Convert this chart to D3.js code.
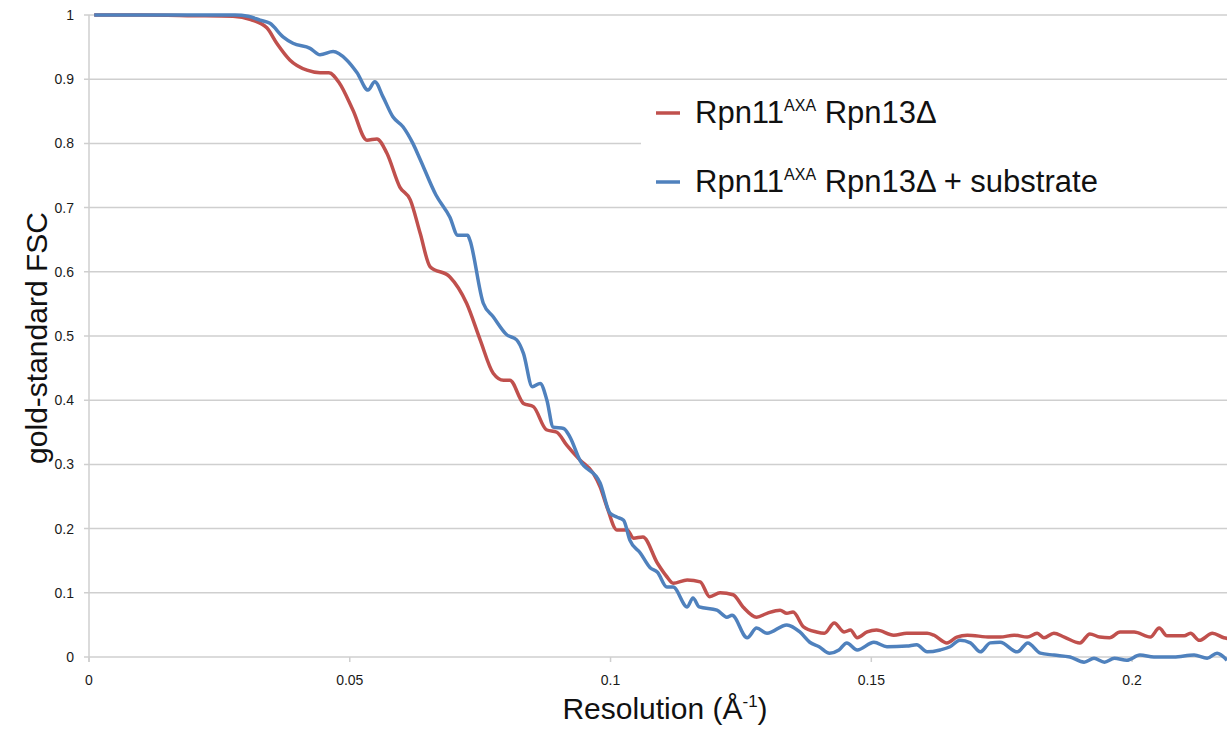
<!DOCTYPE html>
<html>
<head>
<meta charset="utf-8">
<title>gold-standard FSC</title>
<style>
  body { margin: 0; background: #fff; }
  text { font-family: "Liberation Sans", Arial, sans-serif; }
</style>
</head>
<body>
<script src="https://d3js.org/d3.v7.min.js"></script>
<script>
// resolution (1/A) and FSC
var redX = [0.001, 0.010, 0.020, 0.0276, 0.031, 0.0341, 0.036, 0.0385, 0.0418, 0.0443, 0.046, 0.048, 0.0506, 0.0533, 0.0552, 0.0571, 0.0596, 0.0616, 0.0635, 0.0654, 0.0692, 0.0724, 0.075, 0.0775, 0.0795, 0.0807, 0.0833, 0.0852, 0.0877, 0.0897, 0.0916, 0.0941, 0.0967, 0.098, 0.0993, 0.1012, 0.1032, 0.1044, 0.1062, 0.109, 0.1108, 0.112, 0.1147, 0.1172, 0.119, 0.121, 0.1235, 0.1254, 0.128, 0.130, 0.1325, 0.1338, 0.135, 0.137, 0.1395, 0.141, 0.1429, 0.1448, 0.146, 0.1473, 0.1492, 0.151, 0.1543, 0.1568, 0.1607, 0.162, 0.1645, 0.1664, 0.1684, 0.1728, 0.1747, 0.1774, 0.1799, 0.1818, 0.1831, 0.185, 0.187, 0.190, 0.1919, 0.1938, 0.1957, 0.1977, 0.2004, 0.2035, 0.2052, 0.2067, 0.2100, 0.2112, 0.2129, 0.2154, 0.2176, 0.2190];
var redY = [1.0, 1.0, 0.999, 0.998, 0.993, 0.98, 0.956, 0.93, 0.914, 0.91, 0.91, 0.894, 0.852, 0.805, 0.807, 0.785, 0.732, 0.712, 0.66, 0.608, 0.592, 0.551, 0.494, 0.442, 0.431, 0.431, 0.395, 0.39, 0.354, 0.35, 0.33, 0.307, 0.286, 0.265, 0.234, 0.198, 0.198, 0.185, 0.187, 0.146, 0.125, 0.115, 0.12, 0.117, 0.094, 0.1, 0.097, 0.078, 0.062, 0.068, 0.073, 0.068, 0.07, 0.047, 0.039, 0.037, 0.053, 0.039, 0.042, 0.030, 0.039, 0.042, 0.034, 0.037, 0.037, 0.034, 0.022, 0.031, 0.034, 0.031, 0.031, 0.034, 0.031, 0.037, 0.030, 0.037, 0.031, 0.022, 0.036, 0.031, 0.030, 0.039, 0.039, 0.031, 0.045, 0.033, 0.033, 0.037, 0.026, 0.037, 0.030, 0.028];

var blueX = [0.001, 0.010, 0.020, 0.028, 0.0305, 0.0328, 0.0347, 0.0372, 0.0391, 0.0424, 0.0443, 0.0468, 0.0494, 0.0514, 0.0535, 0.0548, 0.0564, 0.0583, 0.0602, 0.0621, 0.0635, 0.0665, 0.0692, 0.0707, 0.0726, 0.073, 0.0756, 0.0775, 0.0801, 0.082, 0.0833, 0.085, 0.0865, 0.0878, 0.089, 0.091, 0.0922, 0.0941, 0.098, 0.0999, 0.1012, 0.1025, 0.1037, 0.1057, 0.1076, 0.109, 0.1108, 0.112, 0.1147, 0.1158, 0.117, 0.1204, 0.1223, 0.1233, 0.1262, 0.128, 0.130, 0.1338, 0.1363, 0.1382, 0.140, 0.142, 0.1438, 0.1453, 0.1473, 0.1505, 0.153, 0.1568, 0.1587, 0.1607, 0.1632, 0.1651, 0.167, 0.169, 0.1709, 0.1728, 0.1747, 0.178, 0.180, 0.1824, 0.1850, 0.1881, 0.1908, 0.1927, 0.1947, 0.1966, 0.1990, 0.2015, 0.2042, 0.2080, 0.2119, 0.2144, 0.2163, 0.2182];
var blueY = [1.0, 1.0, 1.0, 1.0, 0.998, 0.992, 0.987, 0.966, 0.956, 0.948, 0.938, 0.943, 0.93, 0.91, 0.883, 0.896, 0.872, 0.841, 0.826, 0.8, 0.775, 0.72, 0.685, 0.657, 0.657, 0.65, 0.551, 0.53, 0.502, 0.494, 0.473, 0.421, 0.426, 0.4, 0.358, 0.356, 0.343, 0.307, 0.271, 0.224, 0.218, 0.213, 0.182, 0.162, 0.139, 0.132, 0.109, 0.109, 0.078, 0.092, 0.078, 0.073, 0.062, 0.065, 0.03, 0.045, 0.037, 0.05, 0.039, 0.023, 0.016, 0.006, 0.011, 0.022, 0.011, 0.023, 0.016, 0.017, 0.019, 0.008, 0.011, 0.016, 0.026, 0.022, 0.008, 0.022, 0.023, 0.008, 0.022, 0.006, 0.003, 0.0, -0.008, -0.002, -0.008, -0.002, -0.005, 0.003, 0.0, 0.0, 0.003, -0.002, 0.006, -0.005];

var xTicks = [0, 0.05, 0.1, 0.15, 0.2];
var xTickLabels = ["0", "0.05", "0.1", "0.15", "0.2"];
var yTicks = [0, 0.1, 0.2, 0.3, 0.4, 0.5, 0.6, 0.7, 0.8, 0.9, 1];
var yTickLabels = ["0", "0.1", "0.2", "0.3", "0.4", "0.5", "0.6", "0.7", "0.8", "0.9", "1"];
var seriesNames = ["Rpn11", "Rpn11"];
var seriesSuffix = [" Rpn13\u0394", " Rpn13\u0394 + substrate"];
var seriesColors = ["#c0504d", "#4f81bd"];

var width = 1227, height = 731;
var plotLeft = 89, plotTop = 15, plotBottom = 657;
var gridColor = "#cfcfcf";
var titleSize = 30;

var svg = d3.select("body").append("svg")
    .attr("width", width)
    .attr("height", height);

var x = d3.scaleLinear().domain([0, 0.2182]).range([plotLeft, width]);
var y = d3.scaleLinear().domain([0, 1]).range([plotBottom, plotTop]);

// horizontal grid, with the little ticks poking out on the left
svg.append("g").selectAll("line").data(yTicks).enter().append("line")
    .attr("x1", plotLeft - 5)
    .attr("x2", width)
    .attr("y1", function(d) { return y(d); })
    .attr("y2", function(d) { return y(d); })
    .attr("stroke", gridColor)
    .attr("stroke-width", 1.5);

svg.append("line")
    .attr("x1", plotLeft).attr("x2", plotLeft)
    .attr("y1", plotTop).attr("y2", plotBottom + 5)
    .attr("stroke", gridColor)
    .attr("stroke-width", 1.5);

svg.append("g").selectAll("line").data(xTicks).enter().append("line")
    .attr("x1", function(d) { return x(d); })
    .attr("x2", function(d) { return x(d); })
    .attr("y1", plotBottom)
    .attr("y2", plotBottom + 5)
    .attr("stroke", gridColor)
    .attr("stroke-width", 1.5);

svg.append("g").selectAll("text").data(yTicks).enter().append("text")
    .attr("x", plotLeft - 15)
    .attr("y", function(d) { return y(d) + 5; })
    .attr("text-anchor", "end")
    .attr("font-size", 14)
    .attr("fill", "#1a1a1a")
    .text(function(d, i) { return yTickLabels[i]; });

svg.append("g").selectAll("text").data(xTicks).enter().append("text")
    .attr("x", function(d) { return x(d); })
    .attr("y", 685)
    .attr("text-anchor", "middle")
    .attr("font-size", 14)
    .attr("fill", "#1a1a1a")
    .text(function(d, i) { return xTickLabels[i]; });

// legend sits on a white box that hides part of the 0.8 line
svg.append("rect")
    .attr("x", 641).attr("y", 86)
    .attr("width", width - 641).attr("height", 118)
    .attr("fill", "#fff");

// curves
var lineGen = d3.line()
    .x(function(d) { return x(d[0]); })
    .y(function(d) { return y(d[1]); })
    .curve(d3.curveMonotoneX);

svg.append("clipPath").attr("id", "plot")
    .append("rect").attr("x", plotLeft).attr("y", 0).attr("width", width - plotLeft).attr("height", height);

var allSeries = [d3.zip(redX, redY), d3.zip(blueX, blueY)];

svg.append("g").attr("clip-path", "url(#plot)")
    .selectAll("path").data(allSeries).enter().append("path")
    .attr("d", lineGen)
    .attr("fill", "none")
    .attr("stroke", function(d, i) { return seriesColors[i]; })
    .attr("stroke-width", 3.5)
    .attr("stroke-linejoin", "round");

var legend = svg.append("g").selectAll("g").data(seriesNames).enter().append("g")
    .attr("transform", function(d, i) { return "translate(656," + (113 + i * 69) + ")"; });

legend.append("line")
    .attr("x1", 0).attr("x2", 24)
    .attr("stroke", function(d, i) { return seriesColors[i]; })
    .attr("stroke-width", 3.5);

var lt = legend.append("text")
    .attr("x", 39)
    .attr("y", 10)
    .attr("font-size", 31)
    .attr("fill", "#111");
lt.append("tspan").text(function(d) { return d; });
lt.append("tspan").attr("font-size", 16).attr("dy", -12).text("AXA");
lt.append("tspan").attr("dy", 12).text(function(d, i) { return seriesSuffix[i]; });

// axis titles
var xt = svg.append("text")
    .attr("x", 665)
    .attr("y", 719)
    .attr("text-anchor", "middle")
    .attr("font-size", titleSize)
    .attr("fill", "#111");
xt.append("tspan").text("Resolution (\u00c5");
xt.append("tspan").attr("font-size", 17).attr("dy", -12).text("-1");
xt.append("tspan").attr("dy", 12).text(")");

svg.append("text")
    .attr("transform", "translate(47,338) rotate(-90)")
    .attr("text-anchor", "middle")
    .attr("font-size", titleSize)
    .attr("fill", "#111")
    .text("gold-standard FSC");
</script>
</body>
</html>
